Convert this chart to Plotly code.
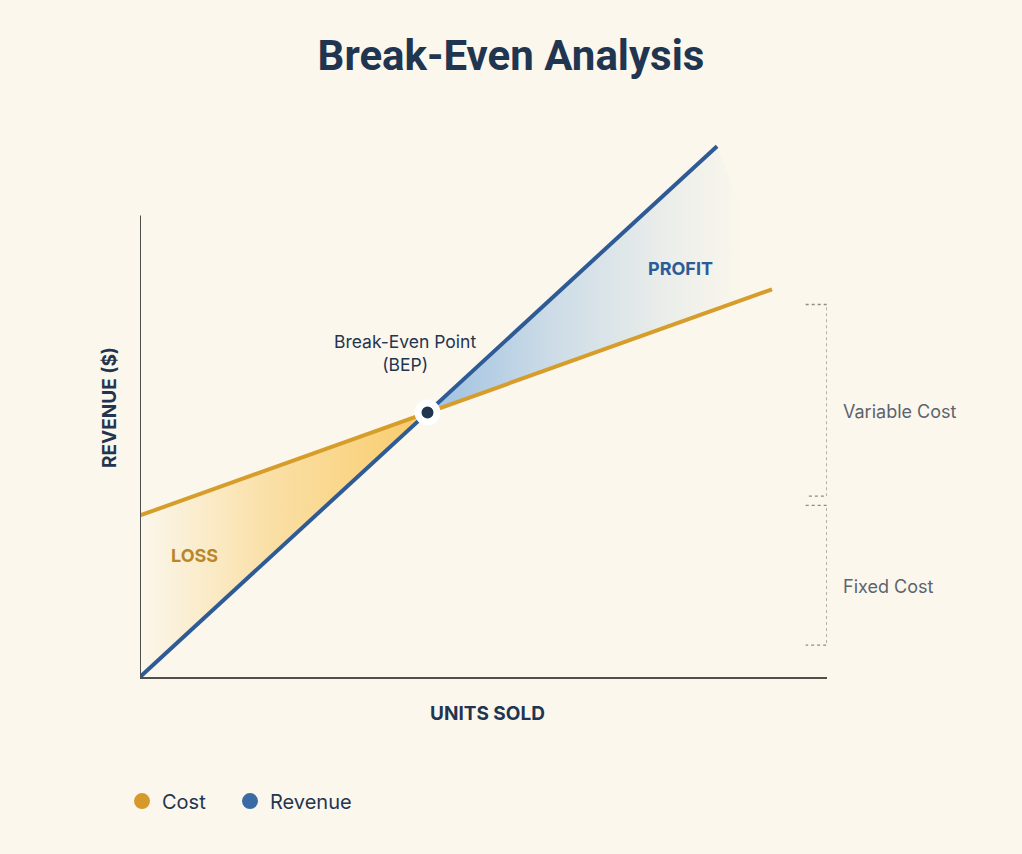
import plotly.graph_objects as go

# values (units on x, dollars on y, arbitrary scale)
units_cost = [0, 92]
cost = [35, 84]
units_revenue = [0, 84]
revenue = [0, 115]
bep_units = 41.85
bep_value = 57.3

legend_names = ["Cost", "Revenue"]

BG = "#FBF7EC"
NAVY = "#1F3550"
GOLD = "#D69D2B"
BLUE = "#2E5B95"
FONT = "Inter"


def build_chart():

    fig = go.Figure()

    # LOSS area (fixed cost down to revenue, left of BEP)

    fig.add_trace(
        go.Scatter(
            x=[units_cost[0], bep_units, units_revenue[0], units_cost[0]],
            y=[cost[0], bep_value, revenue[0], cost[0]],
            mode="lines",
            line=dict(width=0),
            fill="toself",
            fillgradient=dict(
                type="horizontal",
                colorscale=[
                    [0, "rgba(249,200,96,0)"],
                    [0.45, "rgba(249,200,96,0.5)"],
                    [1, "rgba(249,200,96,0.92)"]
                ]
            ),
            hoverinfo="skip",
            showlegend=False
        )
    )

    # PROFIT area (revenue above cost, right of BEP)

    fig.add_trace(
        go.Scatter(
            x=[bep_units, units_revenue[1], units_cost[1], bep_units],
            y=[bep_value, revenue[1], cost[1], bep_value],
            mode="lines",
            line=dict(width=0),
            fill="toself",
            fillgradient=dict(
                type="horizontal",
                colorscale=[
                    [0, "rgba(145,185,224,0.88)"],
                    [0.35, "rgba(145,185,224,0.45)"],
                    [0.7, "rgba(145,185,224,0.15)"],
                    [0.92, "rgba(145,185,224,0)"],
                    [1, "rgba(145,185,224,0)"]
                ]
            ),
            hoverinfo="skip",
            showlegend=False
        )
    )

    fig.add_trace(
        go.Scatter(
            x=units_cost,
            y=cost,
            mode="lines",
            line=dict(color=GOLD, width=4),
            name="Cost",
            showlegend=False
        )
    )

    fig.add_trace(
        go.Scatter(
            x=units_revenue,
            y=revenue,
            mode="lines",
            line=dict(color=BLUE, width=4),
            name="Revenue",
            showlegend=False
        )
    )

    # break-even point

    fig.add_trace(
        go.Scatter(
            x=[bep_units],
            y=[bep_value],
            mode="markers",
            marker=dict(size=19, color=NAVY, line=dict(color="white", width=7)),
            showlegend=False,
            hoverinfo="skip"
        )
    )

    # legend entries as dots, one legend box each so the spacing can be set

    for name, color, leg in zip(legend_names, ["#D59A2A", "#3A6BA5"],
                                ["legend", "legend2"]):
        fig.add_trace(
            go.Scatter(
                x=[None],
                y=[None],
                mode="markers",
                marker=dict(size=20, color=color),
                name=name,
                legend=leg
            )
        )

    # y axis line stops short of the plot top
    fig.add_shape(
        type="line", x0=0, x1=0, y0=0, y1=100,
        line=dict(color="#4F4F4B", width=2), layer="above"
    )

    # brackets for fixed / variable cost
    for y0, y1 in [(39.2, 80.7), (6.9, 37.2)]:
        fig.add_shape(
            type="path",
            path=f"M 96.9 {y1} L 100 {y1} L 100 {y0} L 96.9 {y0}",
            line=dict(color="#8C8C88", width=1.3, dash="dot")
        )

    # labels inside the plot area
    inner = [
        dict(x=38.6, y=70.2, text="Break-Even Point<br>(BEP)",
             font=dict(size=17.5, color=NAVY)),
        dict(x=78.7, y=88.6, text="<b>PROFIT</b>",
             font=dict(size=18, color=BLUE)),
        dict(x=8.0, y=26.4, text="<b>LOSS</b>",
             font=dict(size=18, color="#B8862B")),
    ]
    for a in inner:
        fig.add_annotation(showarrow=False, xref="x", yref="y",
                           xanchor="center", yanchor="middle", **a)

    # labels outside the plot area
    outer = [
        dict(x=1.02, y=0.4608, text="Variable Cost", xanchor="left",
             font=dict(size=18, color="#5B6470")),
        dict(x=1.02, y=0.1576, text="Fixed Cost", xanchor="left",
             font=dict(size=18, color="#5B6470")),
        dict(x=0.5065, y=-0.0624, text="<b>UNITS SOLD</b>", xanchor="center",
             font=dict(size=19, color=NAVY)),
        dict(x=-0.0437, y=0.468, text="<b>REVENUE ($)</b>", textangle=-90,
             xanchor="center", font=dict(size=19, color=NAVY)),
    ]
    for a in outer:
        fig.add_annotation(showarrow=False, xref="paper", yref="paper",
                           yanchor="middle", **a)

    legend_style = dict(
        orientation="h",
        xanchor="left",
        y=-0.215,
        yanchor="middle",
        font=dict(size=20, color=NAVY),
        bgcolor="rgba(0,0,0,0)"
    )

    fig.update_layout(
        width=1022,
        height=854,
        margin=dict(l=140, r=195, t=100, b=177),
        paper_bgcolor=BG,
        plot_bgcolor=BG,
        font=dict(family=FONT, color=NAVY),
        title=dict(
            text="<b>Break-Even Analysis</b>",
            x=0.5,
            xanchor="center",
            y=1 - 55 / 854,
            yanchor="middle",
            font=dict(size=42, color=NAVY, family="Roboto")
        ),
        showlegend=True,
        legend=dict(x=-0.0262, **legend_style),
        legend2=dict(x=0.131, **legend_style),
        hovermode=False
    )

    fig.update_xaxes(
        range=[0, 100],
        showgrid=False,
        zeroline=False,
        showticklabels=False,
        showline=True,
        linecolor="#4F4F4B",
        linewidth=2
    )

    fig.update_yaxes(
        range=[0, 125],
        showgrid=False,
        zeroline=False,
        showticklabels=False,
        showline=False
    )

    return fig


fig = build_chart()
fig.write_html(
    "out.html",
    config={"displayModeBar": False},
    post_script="document.body.style.margin='0';"
                "document.body.style.background='" + BG + "';"
)
